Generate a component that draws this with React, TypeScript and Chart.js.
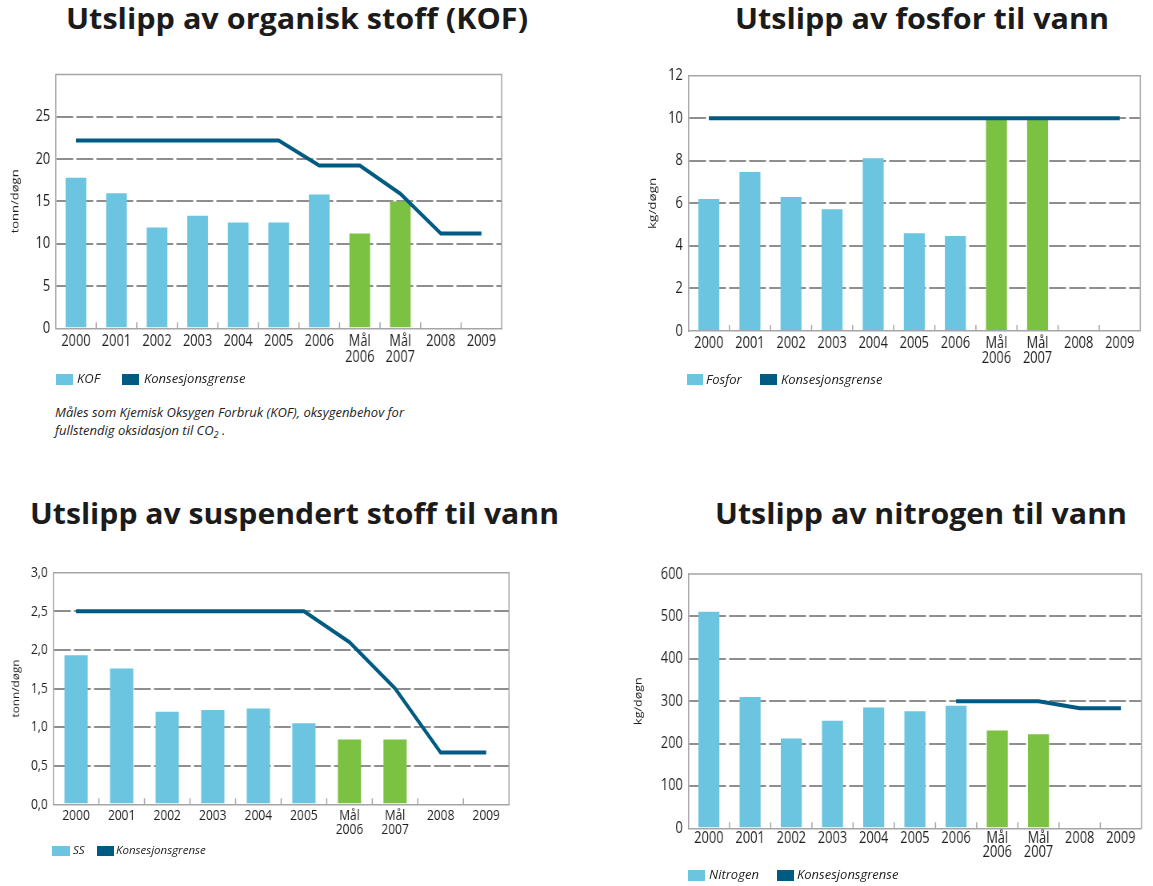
import React, { useEffect, useLayoutEffect, useRef } from 'react';
import { Chart, registerables } from 'chart.js';

Chart.register(...registerables);
Chart.defaults.font.family = "'Open Sans', sans-serif";

// ---------- data ----------
const yearLabels: (string | string[])[] = ['2000', '2001', '2002', '2003', '2004', '2005', '2006', ['Mål', '2006'], ['Mål', '2007'], '2008', '2009'];
const ssLabels: (string | string[])[] = ['2000', '2001', '2002', '2003', '2004', '2005', ['Mål', '2006'], ['Mål', '2007'], '2008', '2009'];

const kofValues = [17.8, 15.95, 11.9, 13.3, 12.5, 12.5, 15.8, 11.2, 15.0, null, null];
const kofLimit = [22.2, 22.2, 22.2, 22.2, 22.2, 22.2, 19.25, 19.25, 15.9, 11.2, 11.2];
const kofTicks = ['0', '5', '10', '15', '20', '25', ''];

const fosforValues = [6.2, 7.47, 6.3, 5.72, 8.12, 4.6, 4.47, 10, 10, null, null];
const fosforLimit = [10, 10, 10, 10, 10, 10, 10, 10, 10, 10, 10];
const fosforTicks = ['0', '2', '4', '6', '8', '10', '12'];

const ssValues = [1.93, 1.76, 1.2, 1.22, 1.24, 1.05, 0.84, 0.84, null, null];
const ssLimit = [2.5, 2.5, 2.5, 2.5, 2.5, 2.5, 2.1, 1.5, 0.67, 0.67];
const ssTicks = ['0,0', '0,5', '1,0', '1,5', '2,0', '2,5', '3,0'];

const nitrogenValues = [511, 310, 212, 254, 285, 276, 289, 231, 222, null, null];
const nitrogenLimit = [null, null, null, null, null, null, 300, 300, 300, 283, 283];
const nitrogenTicks = ['0', '100', '200', '300', '400', '500', '600'];

// ---------- styles ----------
const BLUE = '#6bc4e0';
const GREEN = '#7cc242';
const LINE = '#005b82';
const GRID = '#8e8e8e';
const AXIS = '#a5a5a5';
const TEXT = '#1e1e1e';
const K = 0.8; // horizontal condensing of the chart canvases

const framePlugin = {
  id: 'frameAndTicks',
  beforeDatasetsDraw(chart: any) {
    const { ctx, chartArea } = chart;
    const x = chart.scales.x;
    const n = chart.data.labels.length;
    const step = x.getPixelForValue(1) - x.getPixelForValue(0);
    ctx.save();
    ctx.strokeStyle = AXIS;
    ctx.lineWidth = 1.5;
    ctx.beginPath();
    ctx.moveTo(chartArea.left, chartArea.top);
    ctx.lineTo(chartArea.right, chartArea.top);
    ctx.lineTo(chartArea.right, chartArea.bottom);
    ctx.stroke();
    for (let i = 1; i < n; i++) {
      const px = x.getPixelForValue(i) - step / 2;
      ctx.beginPath();
      ctx.moveTo(px, chartArea.bottom);
      ctx.lineTo(px, chartArea.bottom - 6);
      ctx.stroke();
    }
    ctx.restore();
  },
};

type PanelProps = {
  x0: number; y0: number; w: number; h: number;
  plot: { l: number; t: number; r: number; b: number };
  labels: (string | string[])[];
  values: (number | null)[];
  limit: (number | null)[];
  max: number; step: number; ticks: string[];
  yTitle: string; yTitleSize: number; yTitleCenter: number;
  tickFont: number; xLH: number; xPad: number;
};

function Panel(p: PanelProps) {
  const ref = useRef<HTMLCanvasElement>(null);
  const innerW = p.w / K;
  useEffect(() => {
    if (!ref.current) return;
    const yAxisW = (p.plot.l - p.x0) / K;
    const padRight = (p.x0 + p.w - p.plot.r) / K;
    const padTop = p.plot.t - p.y0;
    const xAxisH = p.y0 + p.h - p.plot.b;
    const titleLH = p.yTitleSize * 1.2;
    const titlePad = (p.yTitleCenter - p.x0) / K - titleLH / 2;
    const yPad = (p.plot.l - (p.plot.l - 5.5)) / K;
    const chart = new Chart(ref.current, {
      type: 'bar',
      data: {
        labels: p.labels as any,
        datasets: [
          {
            type: 'line',
            data: p.limit as any,
            borderColor: LINE,
            backgroundColor: LINE,
            borderWidth: 4,
            pointRadius: 0,
            tension: 0,
            fill: false,
            order: 0,
          } as any,
          {
            type: 'bar',
            data: p.values as any,
            backgroundColor: p.labels.map((l) => (Array.isArray(l) ? GREEN : BLUE)),
            barPercentage: 0.51,
            categoryPercentage: 1,
            order: 1,
          } as any,
        ],
      },
      options: {
        animation: false,
        responsive: false,
        layout: { padding: { left: 0, top: padTop, right: padRight, bottom: 0 } },
        plugins: { legend: { display: false }, tooltip: { enabled: false }, title: { display: false } },
        scales: {
          x: {
            grid: { display: false, drawTicks: false },
            border: { display: true, color: AXIS, width: 1.5 },
            ticks: {
              color: TEXT,
              font: { size: p.tickFont, lineHeight: p.xLH },
              padding: p.xPad,
              maxRotation: 0,
              minRotation: 0,
              autoSkip: false,
            },
            afterFit: (s: any) => { s.height = xAxisH; },
          },
          y: {
            min: 0,
            max: p.max,
            ticks: {
              stepSize: p.step,
              color: TEXT,
              font: { size: p.tickFont },
              padding: yPad,
              callback: (_v: any, i: number) => p.ticks[i],
            },
            grid: {
              color: (c: any) =>
                c.tick && (c.tick.value <= 1e-9 || c.tick.value >= p.max - 1e-9) ? 'rgba(0,0,0,0)' : GRID,
              lineWidth: 2,
              drawTicks: false,
            },
            border: { display: true, color: AXIS, width: 1.5, dash: [21, 4] },
            title: {
              display: true,
              text: p.yTitle,
              color: TEXT,
              font: { size: p.yTitleSize, lineHeight: 1.2 },
              padding: { top: titlePad, bottom: 0 },
            },
            afterFit: (s: any) => { s.width = yAxisW; },
          },
        },
      } as any,
      plugins: [framePlugin],
    });
    return () => chart.destroy();
  }, []);
  return (
    <div style={{ position: 'absolute', left: p.x0, top: p.y0, width: p.w, height: p.h }}>
      <div style={{ width: innerW, height: p.h, transform: `scaleX(${K})`, transformOrigin: '0 0' }}>
        <canvas ref={ref} width={Math.round(innerW)} height={p.h} style={{ display: 'block' }} />
      </div>
    </div>
  );
}

function FitTitle({ text, left, baseline, width, size }: { text: string; left: number; baseline: number; width: number; size: number }) {
  const ref = useRef<HTMLSpanElement>(null);
  useLayoutEffect(() => {
    const el = ref.current;
    if (!el) return;
    const fit = () => {
      el.style.transform = 'none';
      const w = el.getBoundingClientRect().width;
      if (w > 0) el.style.transform = `scaleX(${width / w})`;
    };
    fit();
    (document as any).fonts?.ready?.then(fit);
  }, []);
  return (
    <span
      ref={ref}
      style={{
        position: 'absolute',
        left,
        top: baseline - size * 1.069,
        fontFamily: "'Open Sans', sans-serif",
        fontWeight: 700,
        fontSize: size,
        lineHeight: `${size * 1.362}px`,
        color: '#1b1b1b',
        whiteSpace: 'nowrap',
        transformOrigin: '0 0',
      }}
    >
      {text}
    </span>
  );
}

function Legend({ items, center, size, boxH }: { items: { box: number; boxW: number; text: number; label: string; color: string }[]; center: number; size: number; boxH: number }) {
  return (
    <>
      {items.map((it, i) => (
        <React.Fragment key={i}>
          <div style={{ position: 'absolute', left: it.box, top: center - boxH / 2, width: it.boxW, height: boxH, background: it.color }} />
          <span
            style={{
              position: 'absolute',
              left: it.text,
              top: center - 0.656 * size,
              fontFamily: "'Open Sans', sans-serif",
              fontStyle: 'italic',
              fontSize: size,
              lineHeight: `${size * 1.25}px`,
              color: '#222',
              whiteSpace: 'nowrap',
            }}
          >
            {it.label}
          </span>
        </React.Fragment>
      ))}
    </>
  );
}

export default function App() {
  return (
    <div style={{ position: 'absolute', left: 0, top: 0, width: 1153, height: 886, background: '#fff', overflow: 'hidden' }}>
      <Panel
        x0={0} y0={58} w={540} h={312}
        plot={{ l: 55.7, t: 73.3, r: 501.7, b: 328.3 }}
        labels={yearLabels} values={kofValues} limit={kofLimit}
        max={30} step={5} ticks={kofTicks}
        yTitle="tonn/døgn" yTitleSize={13} yTitleCenter={15.5}
        tickFont={16} xLH={1.0} xPad={4.7}
      />
      <Panel
        x0={600} y0={58} w={553} h={317}
        plot={{ l: 688.3, t: 75.7, r: 1140.5, b: 331 }}
        labels={yearLabels} values={fosforValues} limit={fosforLimit}
        max={12} step={2} ticks={fosforTicks}
        yTitle="kg/døgn" yTitleSize={13.5} yTitleCenter={653}
        tickFont={16} xLH={0.9} xPad={5.5}
      />
      <Panel
        x0={0} y0={555} w={560} h={290}
        plot={{ l: 53.3, t: 572.7, r: 509, b: 804.3 }}
        labels={ssLabels} values={ssValues} limit={ssLimit}
        max={3} step={0.5} ticks={ssTicks}
        yTitle="tonn/døgn" yTitleSize={11.8} yTitleCenter={16.5}
        tickFont={15} xLH={0.95} xPad={4.5}
      />
      <Panel
        x0={600} y0={556} w={553} h={312}
        plot={{ l: 688.3, t: 574, r: 1141.7, b: 828.3 }}
        labels={yearLabels} values={nitrogenValues} limit={nitrogenLimit}
        max={600} step={100} ticks={nitrogenTicks}
        yTitle="kg/døgn" yTitleSize={12.5} yTitleCenter={638.5}
        tickFont={16} xLH={0.9} xPad={3}
      />

      <FitTitle text="Utslipp av organisk stoff (KOF)" left={66} baseline={29.3} width={462} size={28} />
      <FitTitle text="Utslipp av fosfor til vann" left={735} baseline={29.3} width={374} size={28} />
      <FitTitle text="Utslipp av suspendert stoff til vann" left={30} baseline={524.3} width={529} size={28} />
      <FitTitle text="Utslipp av nitrogen til vann" left={715} baseline={524.3} width={412} size={28} />

      <Legend
        center={379} size={13} boxH={11}
        items={[
          { box: 56, boxW: 17, text: 77, label: 'KOF', color: BLUE },
          { box: 122, boxW: 17, text: 144, label: 'Konsesjonsgrense', color: LINE },
        ]}
      />
      <Legend
        center={379.5} size={13} boxH={11}
        items={[
          { box: 687, boxW: 16, text: 706, label: 'Fosfor', color: BLUE },
          { box: 760, boxW: 17, text: 781, label: 'Konsesjonsgrense', color: LINE },
        ]}
      />
      <Legend
        center={851} size={11.5} boxH={10}
        items={[
          { box: 52, boxW: 18, text: 73, label: 'SS', color: BLUE },
          { box: 97, boxW: 17, text: 116, label: 'Konsesjonsgrense', color: LINE },
        ]}
      />
      <Legend
        center={875} size={13} boxH={11}
        items={[
          { box: 688, boxW: 17, text: 709, label: 'Nitrogen', color: BLUE },
          { box: 777, boxW: 17, text: 797, label: 'Konsesjonsgrense', color: LINE },
        ]}
      />

      <div
        style={{
          position: 'absolute',
          left: 55,
          top: 402.6,
          fontFamily: "'Open Sans', sans-serif",
          fontStyle: 'italic',
          fontSize: 13,
          lineHeight: '18px',
          color: '#222',
          whiteSpace: 'nowrap',
        }}
      >
        Måles som Kjemisk Oksygen Forbruk (KOF), oksygenbehov for
        <br />
        fullstendig oksidasjon til CO
        <span style={{ fontSize: 9, position: 'relative', top: 3 }}>2</span> .
      </div>
    </div>
  );
}
